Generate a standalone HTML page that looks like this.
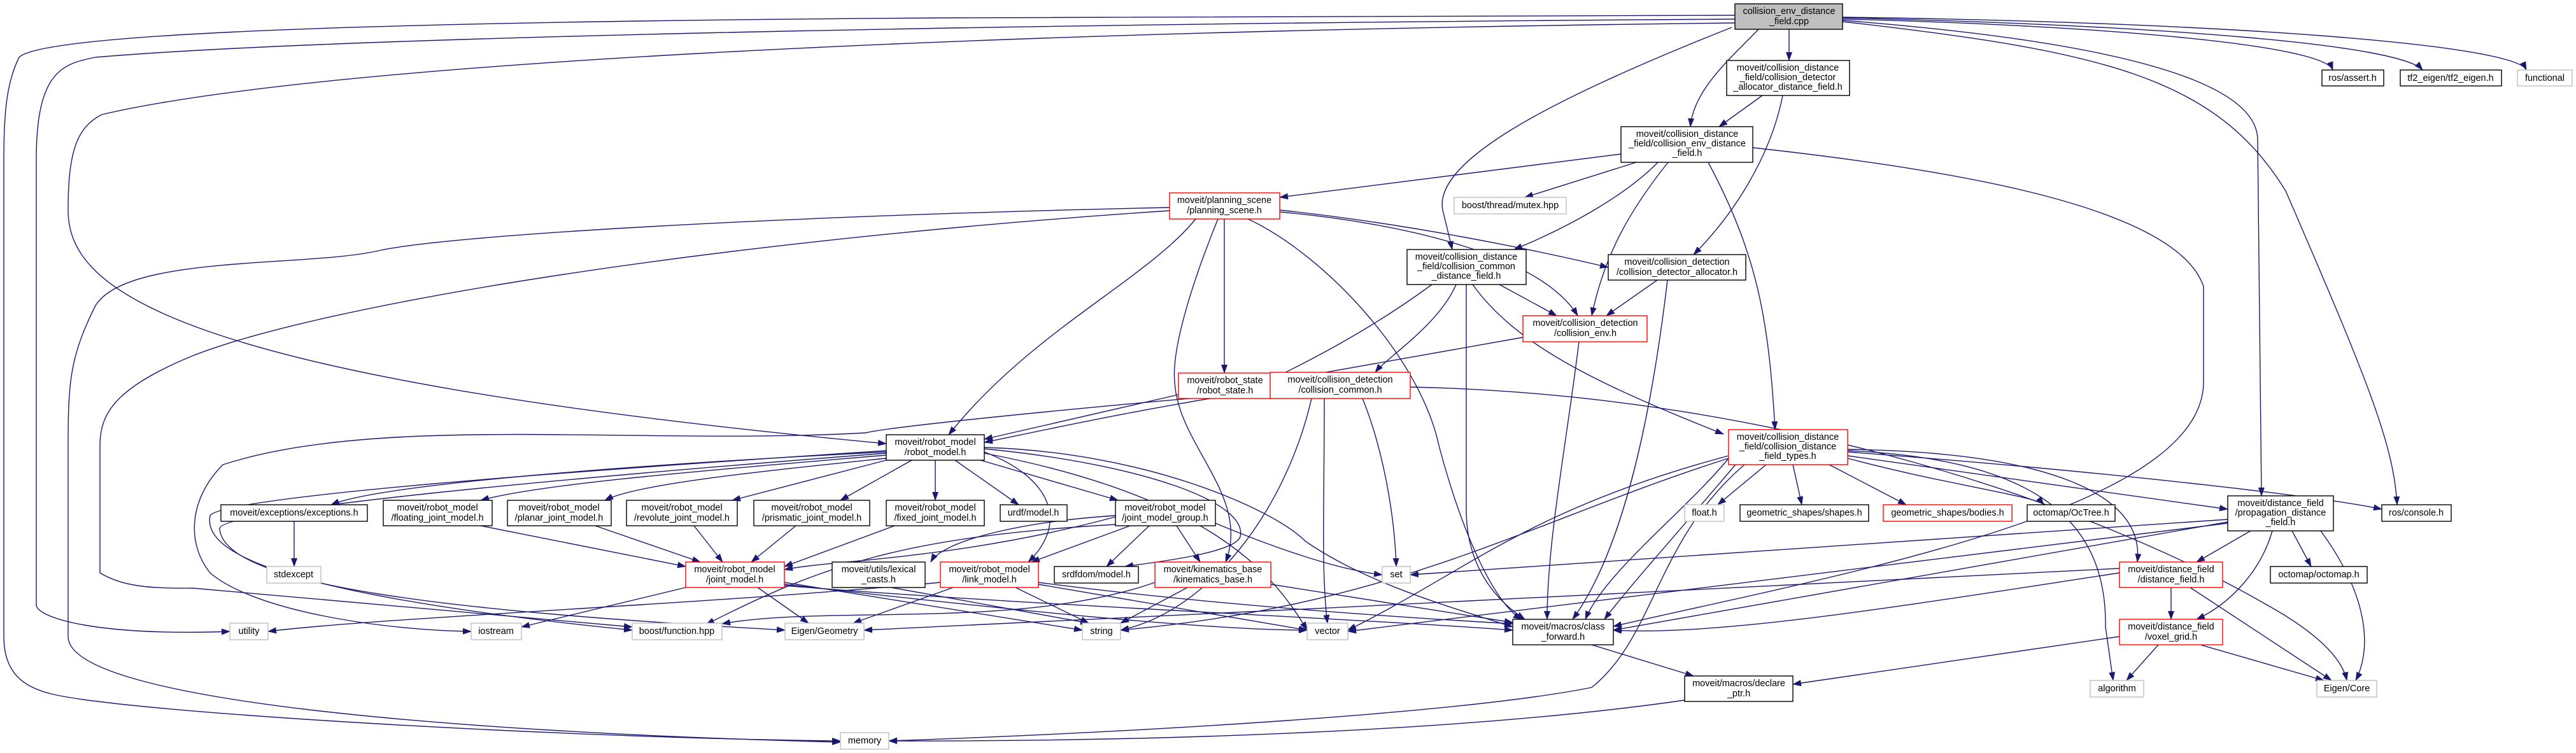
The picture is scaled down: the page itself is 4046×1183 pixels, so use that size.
<!DOCTYPE html>
<html><head><meta charset="utf-8"><style>
html,body{margin:0;padding:0;background:#fff;}
svg{display:block;}
text{font-family:"Liberation Sans",sans-serif;font-size:14.5px;fill:#000;text-anchor:middle;}
.e{fill:none;stroke:#191970;stroke-width:1.4;marker-end:url(#a);}
.n{fill:#fff;stroke:#000;stroke-width:1.4;}
.g{fill:#fff;stroke:#bfbfbf;stroke-width:1.4;}
.r{fill:#fff;stroke:#ff0000;stroke-width:1.4;}
.root{fill:#bfbfbf;stroke:#000;stroke-width:1.4;}
</style></head><body>
<svg width="4046" height="1183" viewBox="0 0 4046 1183" xmlns="http://www.w3.org/2000/svg">
<defs><marker id="a" markerUnits="userSpaceOnUse" markerWidth="14" markerHeight="10" refX="13" refY="5" orient="auto"><path d="M0,0 L14,5 L0,10 z" fill="#191970"/></marker></defs>
<g>
<path class="e" d="M2810 46 L2810 95"/>
<path class="e" d="M2762 46 C2720 90 2660 140 2655 199"/>
<path class="e" d="M2720 43 C2450 150 2250 250 2266 330 L2281 392"/>
<path class="e" d="M2894 30 C3300 40 3650 70 3664 110"/>
<path class="e" d="M2894 28 C3400 40 3770 70 3805 110"/>
<path class="e" d="M2894 27 C3500 35 3950 70 3968 110"/>
<path class="e" d="M2894 32 C3380 70 3546 140 3546 220 L3552 779"/>
<path class="e" d="M2894 34 C3300 80 3480 120 3590 300 C3720 600 3760 700 3765 793"/>
<path class="e" d="M2725 24 L1500 28 C400 35 60 60 30 90 C10 130 6 180 6 250 L6 1000 C6 1060 40 1080 80 1090 C200 1120 900 1160 1320 1164"/>
<path class="e" d="M2725 30 C1500 38 500 60 150 90 C100 100 57 110 57 250 L57 950 C57 970 150 1000 361 992"/>
<path class="e" d="M2725 36 C1500 50 500 100 160 180 C120 200 107 240 107 330 C107 450 250 590 1392 697"/>
<path class="e" d="M2768 150 L2700 199"/>
<path class="e" d="M2800 150 C2780 250 2720 340 2660 400"/>
<path class="e" d="M2546 242 L2010 310"/>
<path class="e" d="M2570 255 L2395 310"/>
<path class="e" d="M2604 255 C2560 300 2480 350 2378 392"/>
<path class="e" d="M2620 255 C2560 330 2520 400 2500 496"/>
<path class="e" d="M2683 255 C2760 400 2778 500 2788 675"/>
<path class="e" d="M2753 232 C3100 270 3420 330 3461 450 L3461 600 C3461 800 2900 900 2534 984"/>
<path class="e" d="M2010 330 C2200 350 2400 390 2526 420"/>
<path class="e" d="M2010 333 C2200 350 2420 400 2478 496"/>
<path class="e" d="M1923 344 L1923 586"/>
<path class="e" d="M1878 344 C1800 440 1620 520 1490 683"/>
<path class="e" d="M1913 344 C1870 450 1840 550 1845 600 C1850 700 1965 780 1925 883"/>
<path class="e" d="M1960 344 C2080 400 2230 560 2260 700 C2300 850 2350 950 2390 973"/>
<path class="e" d="M1837 326 C1200 340 700 370 594 394 C480 420 200 400 150 480 C110 560 107 600 107 700 L107 1000 C107 1100 700 1150 1320 1166"/>
<path class="e" d="M1837 331 C1100 380 500 480 300 560 C180 610 157 650 157 700 L157 900 C190 920 230 925 303 924 L993 985"/>
<path class="e" d="M2249 447 C2150 520 2050 570 1997 596"/>
<path class="e" d="M2287 447 C2260 510 2180 560 2160 585"/>
<path class="e" d="M2355 447 L2445 496"/>
<path class="e" d="M2303 447 L2303 800 C2303 900 2360 950 2395 973"/>
<path class="e" d="M2313 447 C2380 540 2500 600 2707 682"/>
<path class="e" d="M2603 440 L2523 496"/>
<path class="e" d="M2619 440 C2600 600 2560 850 2470 973"/>
<path class="e" d="M2392 530 L1997 600"/>
<path class="e" d="M2480 537 C2460 700 2430 850 2430 973"/>
<path class="e" d="M1851 620 L1546 690"/>
<path class="e" d="M1995 611 C1800 640 1620 680 1546 695"/>
<path class="e" d="M2215 608 C2800 620 3300 800 3560 950 C3650 1000 3680 1040 3686 1069"/>
<path class="e" d="M2140 626 C2170 700 2190 800 2193 890"/>
<path class="e" d="M2080 626 C2080 800 2075 900 2085 979"/>
<path class="e" d="M2060 626 C2020 800 1900 960 1760 990"/>
<path class="e" d="M1995 615 C1700 640 1400 670 1360 680 C1000 700 600 650 350 730 C300 780 290 850 330 900 C400 960 600 990 740 992"/>
<path class="e" d="M1392 710 C1000 730 600 760 520 793"/>
<path class="e" d="M1392 715 C1100 740 850 760 755 786"/>
<path class="e" d="M1392 720 C1200 740 1000 760 950 786"/>
<path class="e" d="M1392 723 L1150 786"/>
<path class="e" d="M1432 723 L1320 786"/>
<path class="e" d="M1469 723 L1469 786"/>
<path class="e" d="M1500 723 L1600 793"/>
<path class="e" d="M1540 723 L1756 786"/>
<path class="e" d="M1546 710 C1650 750 1680 820 1615 883"/>
<path class="e" d="M1546 705 C1800 730 1960 790 1948 843 C1940 870 1800 885 1767 890"/>
<path class="e" d="M1546 703 C1800 710 2000 800 2050 850 C2150 920 2300 960 2376 985"/>
<path class="e" d="M1392 708 C900 740 350 780 330 810 C320 860 400 930 993 990"/>
<path class="e" d="M1392 712 C900 750 350 800 345 830 C350 920 700 960 1233 990"/>
<path class="e" d="M1546 712 C1900 780 2000 900 2053 990"/>
<path class="e" d="M462 819 L462 890"/>
<path class="e" d="M755 826 L1077 890"/>
<path class="e" d="M935 826 L1100 883"/>
<path class="e" d="M1090 826 L1135 883"/>
<path class="e" d="M1250 826 L1180 883"/>
<path class="e" d="M1405 826 L1232 890"/>
<path class="e" d="M1752 812 C1500 880 1300 880 1232 895"/>
<path class="e" d="M1752 810 C1600 820 1480 850 1462 883"/>
<path class="e" d="M1775 826 L1620 883"/>
<path class="e" d="M1805 826 L1738 890"/>
<path class="e" d="M1848 826 L1885 883"/>
<path class="e" d="M1909 822 C2000 860 2100 895 2171 903"/>
<path class="e" d="M1752 824 C1419 843 1290 889 1109 981"/>
<path class="e" d="M1077 923 L819 985"/>
<path class="e" d="M1190 923 L1270 979"/>
<path class="e" d="M1232 915 L1700 990"/>
<path class="e" d="M1232 918 C1600 960 1900 990 2053 990"/>
<path class="e" d="M1232 920 C1600 950 2100 970 2376 990"/>
<path class="e" d="M1400 923 L1710 979"/>
<path class="e" d="M1497 923 L1340 979"/>
<path class="e" d="M1595 923 L1710 979"/>
<path class="e" d="M1477 915 C1100 950 600 970 421 992"/>
<path class="e" d="M1631 918 L2053 990"/>
<path class="e" d="M1631 915 C1900 950 2200 970 2376 980"/>
<path class="e" d="M1865 923 L1760 979"/>
<path class="e" d="M1814 915 C1600 990 1300 950 1134 980"/>
<path class="e" d="M1996 918 L2376 978"/>
<path class="e" d="M2774 730 L2698 793"/>
<path class="e" d="M2816 730 L2830 793"/>
<path class="e" d="M2873 730 L2994 793"/>
<path class="e" d="M2902 720 C3050 760 3200 780 3210 793"/>
<path class="e" d="M2902 716 L3499 800"/>
<path class="e" d="M2902 710 C3300 740 3650 780 3741 800"/>
<path class="e" d="M2902 706 C3200 710 3370 770 3357 883"/>
<path class="e" d="M2902 708 C3170 720 3310 800 3307 985 L3319 1069"/>
<path class="e" d="M2715 720 C2650 800 2520 900 2490 973"/>
<path class="e" d="M2730 725 C2650 820 2560 920 2520 973"/>
<path class="e" d="M2715 716 C2400 800 2300 900 2117 990"/>
<path class="e" d="M2715 720 C2400 820 2200 950 1760 990"/>
<path class="e" d="M2740 730 C2600 850 2600 1000 2500 1080 C2300 1120 1800 1150 1396 1164"/>
<path class="e" d="M3499 816 L2215 903"/>
<path class="e" d="M3499 820 L2534 990"/>
<path class="e" d="M3535 834 L3450 883"/>
<path class="e" d="M3569 834 C3550 900 3500 950 3450 973"/>
<path class="e" d="M3600 834 L3630 890"/>
<path class="e" d="M3645 834 C3730 950 3720 1030 3700 1069"/>
<path class="e" d="M3499 822 L2117 992"/>
<path class="e" d="M3410 923 L3410 973"/>
<path class="e" d="M3440 923 L3662 1069"/>
<path class="e" d="M3329 900 C3000 950 2700 1000 2534 990"/>
<path class="e" d="M3329 893 C2800 920 2000 960 1357 990"/>
<path class="e" d="M3329 1000 L2816 1075"/>
<path class="e" d="M3390 1013 L3340 1069"/>
<path class="e" d="M3456 1013 L3650 1069"/>
<path class="e" d="M2500 1013 L2660 1062"/>
<path class="e" d="M2646 1100 C2300 1150 1800 1165 1396 1164"/>
</g>
<g>
<rect class="root" x="2725" y="6" width="169" height="40"/><text x="2810" y="22">collision_env_distance</text><text x="2810" y="38">_field.cpp</text>
<rect class="n" x="2712" y="95" width="193" height="55"/><text x="2808" y="111">moveit/collision_distance</text><text x="2808" y="126">_field/collision_detector</text><text x="2808" y="141">_allocator_distance_field.h</text>
<rect class="n" x="3647" y="110" width="97" height="25"/><text x="3695" y="127">ros/assert.h</text>
<rect class="n" x="3770" y="110" width="159" height="25"/><text x="3849" y="127">tf2_eigen/tf2_eigen.h</text>
<rect class="g" x="3954" y="110" width="86" height="25"/><text x="3997" y="127">functional</text>
<rect class="n" x="2546" y="199" width="207" height="56"/><text x="2650" y="215">moveit/collision_distance</text><text x="2650" y="230">_field/collision_env_distance</text><text x="2650" y="245">_field.h</text>
<rect class="g" x="2284" y="310" width="176" height="26"/><text x="2372" y="327">boost/thread/mutex.hpp</text>
<rect class="r" x="1837" y="303" width="173" height="41"/><text x="1923" y="319">moveit/planning_scene</text><text x="1923" y="335">/planning_scene.h</text>
<rect class="n" x="2210" y="392" width="187" height="55"/><text x="2303" y="408">moveit/collision_distance</text><text x="2303" y="423">_field/collision_common</text><text x="2303" y="438">_distance_field.h</text>
<rect class="n" x="2526" y="400" width="216" height="40"/><text x="2634" y="416">moveit/collision_detection</text><text x="2634" y="432">/collision_detector_allocator.h</text>
<rect class="r" x="2392" y="496" width="195" height="41"/><text x="2490" y="512">moveit/collision_detection</text><text x="2490" y="528">/collision_env.h</text>
<rect class="r" x="1851" y="586" width="146" height="40"/><text x="1924" y="602">moveit/robot_state</text><text x="1924" y="618">/robot_state.h</text>
<rect class="r" x="1995" y="585" width="220" height="41"/><text x="2105" y="601">moveit/collision_detection</text><text x="2105" y="617">/collision_common.h</text>
<rect class="n" x="1392" y="683" width="154" height="40"/><text x="1469" y="699">moveit/robot_model</text><text x="1469" y="715">/robot_model.h</text>
<rect class="r" x="2715" y="675" width="187" height="55"/><text x="2808" y="691">moveit/collision_distance</text><text x="2808" y="706">_field/collision_distance</text><text x="2808" y="721">_field_types.h</text>
<rect class="n" x="347" y="793" width="230" height="26"/><text x="462" y="810">moveit/exceptions/exceptions.h</text>
<rect class="n" x="602" y="786" width="171" height="40"/><text x="687" y="802">moveit/robot_model</text><text x="687" y="818">/floating_joint_model.h</text>
<rect class="n" x="797" y="786" width="163" height="40"/><text x="878" y="802">moveit/robot_model</text><text x="878" y="818">/planar_joint_model.h</text>
<rect class="n" x="984" y="786" width="174" height="40"/><text x="1071" y="802">moveit/robot_model</text><text x="1071" y="818">/revolute_joint_model.h</text>
<rect class="n" x="1184" y="786" width="182" height="40"/><text x="1275" y="802">moveit/robot_model</text><text x="1275" y="818">/prismatic_joint_model.h</text>
<rect class="n" x="1392" y="786" width="154" height="40"/><text x="1469" y="802">moveit/robot_model</text><text x="1469" y="818">/fixed_joint_model.h</text>
<rect class="n" x="1571" y="793" width="105" height="26"/><text x="1623" y="810">urdf/model.h</text>
<rect class="n" x="1752" y="786" width="157" height="40"/><text x="1830" y="802">moveit/robot_model</text><text x="1830" y="818">/joint_model_group.h</text>
<rect class="g" x="2646" y="793" width="62" height="26"/><text x="2677" y="810">float.h</text>
<rect class="n" x="2733" y="793" width="202" height="26"/><text x="2834" y="810">geometric_shapes/shapes.h</text>
<rect class="r" x="2958" y="793" width="202" height="26"/><text x="3059" y="810">geometric_shapes/bodies.h</text>
<rect class="n" x="3184" y="793" width="138" height="26"/><text x="3253" y="810">octomap/OcTree.h</text>
<rect class="n" x="3499" y="779" width="166" height="55"/><text x="3582" y="795">moveit/distance_field</text><text x="3582" y="810">/propagation_distance</text><text x="3582" y="825">_field.h</text>
<rect class="n" x="3741" y="793" width="109" height="26"/><text x="3795" y="810">ros/console.h</text>
<rect class="g" x="419" y="890" width="85" height="26"/><text x="461" y="907">stdexcept</text>
<rect class="r" x="1077" y="883" width="155" height="40"/><text x="1154" y="899">moveit/robot_model</text><text x="1154" y="915">/joint_model.h</text>
<rect class="n" x="1307" y="883" width="146" height="40"/><text x="1380" y="899">moveit/utils/lexical</text><text x="1380" y="915">_casts.h</text>
<rect class="r" x="1477" y="883" width="154" height="40"/><text x="1554" y="899">moveit/robot_model</text><text x="1554" y="915">/link_model.h</text>
<rect class="n" x="1656" y="890" width="132" height="26"/><text x="1722" y="907">srdfdom/model.h</text>
<rect class="r" x="1814" y="883" width="182" height="40"/><text x="1905" y="899">moveit/kinematics_base</text><text x="1905" y="915">/kinematics_base.h</text>
<rect class="g" x="2171" y="890" width="44" height="26"/><text x="2193" y="907">set</text>
<rect class="r" x="3329" y="883" width="162" height="40"/><text x="3410" y="899">moveit/distance_field</text><text x="3410" y="915">/distance_field.h</text>
<rect class="n" x="3566" y="890" width="152" height="26"/><text x="3642" y="907">octomap/octomap.h</text>
<rect class="g" x="361" y="979" width="60" height="26"/><text x="391" y="996">utility</text>
<rect class="g" x="740" y="979" width="79" height="26"/><text x="779" y="996">iostream</text>
<rect class="g" x="993" y="979" width="141" height="26"/><text x="1063" y="996">boost/function.hpp</text>
<rect class="g" x="1233" y="979" width="124" height="26"/><text x="1295" y="996">Eigen/Geometry</text>
<rect class="g" x="1700" y="979" width="60" height="26"/><text x="1730" y="996">string</text>
<rect class="g" x="2053" y="979" width="64" height="26"/><text x="2085" y="996">vector</text>
<rect class="n" x="2376" y="973" width="158" height="40"/><text x="2455" y="989">moveit/macros/class</text><text x="2455" y="1005">_forward.h</text>
<rect class="r" x="3329" y="973" width="162" height="40"/><text x="3410" y="989">moveit/distance_field</text><text x="3410" y="1005">/voxel_grid.h</text>
<rect class="n" x="2646" y="1062" width="170" height="40"/><text x="2731" y="1078">moveit/macros/declare</text><text x="2731" y="1094">_ptr.h</text>
<rect class="g" x="3283" y="1069" width="84" height="26"/><text x="3325" y="1086">algorithm</text>
<rect class="g" x="3639" y="1069" width="94" height="26"/><text x="3686" y="1086">Eigen/Core</text>
<rect class="g" x="1320" y="1151" width="76" height="26"/><text x="1358" y="1168">memory</text>
</g>
</svg>
</body></html>
